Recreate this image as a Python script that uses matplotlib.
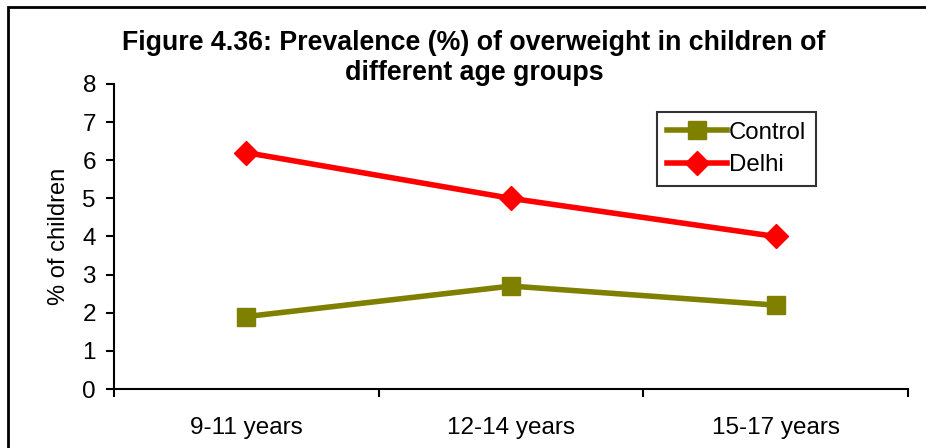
import matplotlib
matplotlib.use('Agg')
import matplotlib.pyplot as plt
import matplotlib.patches as patches

plt.rcParams['font.family'] = ['Liberation Sans', 'DejaVu Sans']

age_groups = ['9-11 years', '12-14 years', '15-17 years']
control = [1.9, 2.7, 2.2]
delhi = [6.2, 5.0, 4.0]

fig = plt.figure(figsize=(9.26, 4.48), dpi=100)
ax = fig.add_axes([114/926, 1-389/448, 794/926, 305/448])

x = [i + 0.5 for i in range(len(age_groups))]
ax.plot(x, control, '-s', color='#808000', lw=4, ms=13, label='Control')
ax.plot(x, delhi, '-D', color='#ff0000', lw=4, ms=12, label='Delhi')

ax.set_xlim(0, 3)
ax.set_ylim(0, 8)
ax.set_yticks(range(0, 9))
ax.set_xticks([0, 1, 2, 3])
ax.set_xticklabels([])
ax.set_xticks(x, minor=True)
ax.set_xticklabels(age_groups, minor=True)
ax.tick_params(axis='x', which='minor', length=0, pad=20, labelsize=17.5)
ax.tick_params(axis='x', which='major', length=6, width=1.5, direction='out')
ax.tick_params(axis='y', length=6, width=1.5, direction='out', pad=7, labelsize=17.5)
for s in ['top', 'right']:
    ax.spines[s].set_visible(False)
for s in ['left', 'bottom']:
    ax.spines[s].set_linewidth(1.5)
ax.set_ylabel('% of children', fontsize=17, labelpad=9)

fig.text(474/926, 1-43/448, 'Figure 4.36: Prevalence (%) of overweight in children of',
         ha='center', va='center', fontsize=19.3, fontweight='bold')
fig.text(474/926, 1-73/448, 'different age groups',
         ha='center', va='center', fontsize=19.3, fontweight='bold')

leg = ax.legend(loc='upper left', bbox_to_anchor=(657/926, 1-112/448),
                bbox_transform=fig.transFigure, fontsize=17.3, frameon=True,
                fancybox=False, edgecolor='black', handlelength=2.5,
                handletextpad=0.1, borderpad=0.4, labelspacing=0.45, borderaxespad=0)
leg.get_frame().set_linewidth(1.5)

fig.patches.append(patches.Rectangle((8/926, -0.1), 1.0, 1-7/448+0.1,
                                     transform=fig.transFigure, fill=False,
                                     edgecolor='black', lw=2))

plt.savefig('out.png', dpi=100)
